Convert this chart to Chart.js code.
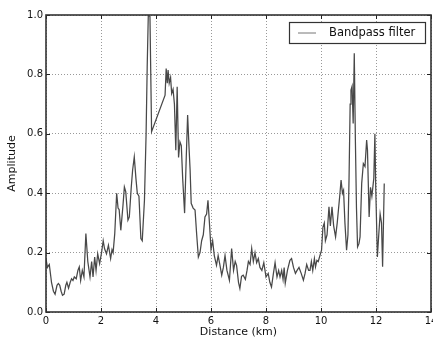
<!DOCTYPE html>
<html>
<head>
<meta charset="utf-8">
<script src="https://cdn.jsdelivr.net/npm/chart.js@4/dist/chart.umd.min.js"></script>
<style>
html,body{margin:0;padding:0;background:#fff;}
#wrap{width:433px;height:341px;position:relative;}
</style>
</head>
<body>
<div id="wrap"><canvas id="c" width="433" height="341"></canvas></div>
<script>
const seriesLabel = "Bandpass filter";
const xTitle = "Distance (km)";
const yTitle = "Amplitude";
const distanceKm = [
0.00,0.05,0.12,0.20,0.27,0.33,0.40,0.45,0.50,0.55,0.60,0.66,0.72,0.76,0.82,0.88,0.93,0.98,1.03,1.10,
1.16,1.21,1.26,1.32,1.38,1.45,1.52,1.60,1.66,1.71,1.77,1.82,1.88,1.95,2.02,2.08,2.13,2.20,2.27,2.35,
2.40,2.44,2.50,2.57,2.62,2.66,2.72,2.80,2.85,2.90,2.98,3.03,3.10,3.15,3.21,3.27,3.32,3.38,3.45,3.50,
3.58,3.64,3.68,3.72,3.78,3.84,4.33,4.37,4.41,4.44,4.48,4.53,4.57,4.62,4.67,4.72,4.77,4.82,4.87,4.92,
4.97,5.04,5.10,5.15,5.20,5.24,5.28,5.35,5.42,5.48,5.54,5.60,5.66,5.72,5.78,5.84,5.89,5.95,6.00,6.06,
6.12,6.20,6.26,6.32,6.39,6.45,6.51,6.58,6.67,6.75,6.82,6.88,6.93,7.00,7.05,7.11,7.17,7.25,7.31,7.36,
7.42,7.48,7.54,7.60,7.66,7.72,7.78,7.85,7.92,8.00,8.08,8.14,8.20,8.27,8.33,8.40,8.46,8.51,8.57,8.62,
8.66,8.70,8.78,8.87,8.93,9.00,9.07,9.13,9.20,9.28,9.36,9.42,9.48,9.55,9.60,9.65,9.70,9.76,9.80,9.85,
9.90,9.96,10.02,10.07,10.12,10.16,10.22,10.29,10.34,10.40,10.46,10.53,10.59,10.64,10.69,10.73,10.78,10.82,10.87,10.93,
10.98,11.02,11.06,11.09,11.13,11.17,11.21,11.25,11.29,11.33,11.38,11.42,11.48,11.54,11.60,11.66,11.69,11.75,11.80,11.85,
11.92,11.96,11.99,12.05,12.10,12.15,12.20,12.24,12.30
];
const amplitude = [
0.18,0.15,0.16,0.10,0.07,0.06,0.09,0.096,0.09,0.07,0.056,0.06,0.09,0.10,0.08,0.10,0.112,0.106,0.118,0.112,
0.14,0.152,0.106,0.14,0.118,0.264,0.17,0.118,0.17,0.118,0.185,0.14,0.196,0.163,0.20,0.24,0.213,0.196,0.225,0.18,
0.21,0.20,0.264,0.40,0.35,0.345,0.275,0.36,0.421,0.405,0.309,0.32,0.42,0.478,0.522,0.45,0.40,0.39,0.247,0.24,
0.376,0.60,0.826,1.0,0.995,0.607,0.73,0.82,0.77,0.815,0.77,0.79,0.736,0.75,0.70,0.545,0.758,0.52,0.573,0.56,
0.45,0.333,0.52,0.663,0.556,0.48,0.366,0.35,0.343,0.26,0.185,0.20,0.24,0.26,0.32,0.33,0.376,0.29,0.21,0.24,
0.19,0.157,0.19,0.16,0.124,0.15,0.19,0.14,0.107,0.214,0.14,0.17,0.157,0.10,0.079,0.12,0.124,0.11,0.14,0.17,
0.16,0.214,0.17,0.20,0.166,0.18,0.15,0.14,0.166,0.118,0.13,0.10,0.084,0.13,0.166,0.118,0.14,0.118,0.14,0.11,
0.15,0.097,0.14,0.174,0.18,0.15,0.13,0.14,0.15,0.13,0.107,0.13,0.16,0.14,0.14,0.17,0.14,0.18,0.152,0.174,
0.17,0.19,0.208,0.286,0.30,0.24,0.26,0.354,0.29,0.354,0.29,0.253,0.30,0.35,0.40,0.444,0.40,0.41,0.30,0.208,
0.26,0.45,0.70,0.747,0.76,0.635,0.871,0.58,0.35,0.219,0.23,0.253,0.433,0.50,0.49,0.579,0.545,0.32,0.42,0.39,
0.45,0.60,0.42,0.185,0.26,0.33,0.30,0.152,0.433
];
const xTicks = [0,2,4,6,8,10,12,14];
const yTicks = [0.0,0.2,0.4,0.6,0.8,1.0];

const points = distanceKm.map((x,i)=>({x:x,y:amplitude[i]}));

const framePlugin = {
  id:'frame',
  afterDraw(chart){
    const ctx = chart.ctx, a = chart.chartArea;
    const xs = chart.scales.x, ys = chart.scales.y;
    ctx.save();
    ctx.strokeStyle = '#222'; ctx.lineWidth = 1;
    xTicks.forEach(t=>{
      const px = Math.round(xs.getPixelForValue(t))+0.5;
      ctx.beginPath(); ctx.moveTo(px,a.bottom); ctx.lineTo(px,a.bottom-4);
      ctx.moveTo(px,a.top); ctx.lineTo(px,a.top+4); ctx.stroke();
    });
    yTicks.forEach(t=>{
      const py = Math.round(ys.getPixelForValue(t))+0.5;
      ctx.beginPath(); ctx.moveTo(a.left,py); ctx.lineTo(a.left+4,py);
      ctx.moveTo(a.right,py); ctx.lineTo(a.right-4,py); ctx.stroke();
    });
    ctx.strokeStyle = '#333'; ctx.lineWidth = 1.6;
    ctx.strokeRect(a.left, a.top, a.right-a.left, a.bottom-a.top);
    const lw = 136, lh = 21;
    const lx = a.right - 6 - lw, ly = a.top + 7;
    ctx.fillStyle = '#fff';
    ctx.fillRect(lx, ly, lw, lh);
    ctx.strokeStyle = '#333'; ctx.lineWidth = 1.2;
    ctx.strokeRect(lx+0.5, ly+0.5, lw, lh);
    ctx.strokeStyle = '#777'; ctx.lineWidth = 1;
    ctx.beginPath(); ctx.moveTo(lx+9, ly+lh/2+0.5); ctx.lineTo(lx+27, ly+lh/2+0.5); ctx.stroke();
    ctx.fillStyle = '#111';
    ctx.font = '11.5px "DejaVu Sans"';
    ctx.textBaseline = 'middle';
    ctx.fillText(seriesLabel, lx+40, ly+lh/2+1);
    ctx.restore();
  }
};

new Chart(document.getElementById('c'), {
  type:'line',
  data:{datasets:[{
    label:seriesLabel,
    data:points,
    borderColor:'#484848',
    borderWidth:1.25,
    pointRadius:0,
    tension:0,
    fill:false
  }]},
  options:{
    responsive:false,
    animation:false,
    layout:{padding:{top:15,right:2,left:0,bottom:0}},
    plugins:{legend:{display:false},tooltip:{enabled:false}},
    scales:{
      x:{
        type:'linear', min:0, max:14,
        afterBuildTicks(s){ s.ticks = xTicks.map(v=>({value:v})); },
        afterFit(s){ s.height = 29; s.paddingLeft = 0; s.paddingRight = 0; },
        grid:{color:'rgba(0,0,0,0.4)', lineWidth:1, drawTicks:false},
        border:{display:false, dash:[1,2]},
        ticks:{padding:3, color:'#111', font:{family:'DejaVu Sans', size:10}, maxRotation:0,
          callback:v=>String(v)},
        title:{display:true, text:xTitle, color:'#111', font:{family:'DejaVu Sans', size:11}, padding:{top:0,bottom:2}}
      },
      y:{
        type:'linear', min:0, max:1,
        afterBuildTicks(s){ s.ticks = yTicks.map(v=>({value:v})); },
        afterFit(s){ s.width = 46; s.paddingTop = 0; s.paddingBottom = 0; },
        grid:{color:'rgba(0,0,0,0.4)', lineWidth:1, drawTicks:false},
        border:{display:false, dash:[1,2]},
        ticks:{padding:3, color:'#111', font:{family:'DejaVu Sans', size:10},
          callback:v=>Number(v).toFixed(1)},
        title:{display:true, text:yTitle, color:'#111', font:{family:'DejaVu Sans', size:11}, padding:{top:6,bottom:0}}
      }
    }
  },
  plugins:[framePlugin]
});
</script>
</body>
</html>
